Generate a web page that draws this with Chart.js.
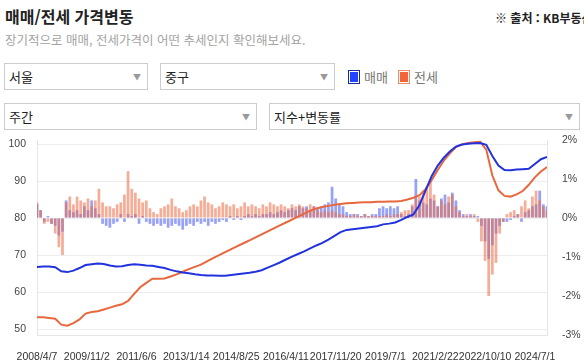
<!DOCTYPE html>
<html lang="ko">
<head>
<meta charset="utf-8">
<title>매매/전세 가격변동</title>
<script src="https://cdn.jsdelivr.net/npm/chart.js@4.4.1/dist/chart.umd.min.js"></script>
<style>
  html, body { margin:0; padding:0; background:#fff; }
  body { width:584px; height:364px; overflow:hidden; position:relative;
         font-family:"Noto Sans CJK KR","Noto Sans",sans-serif; color:#222; }
  .title { position:absolute; left:5px; top:6px; font-size:16px; font-weight:700; line-height:20px; }
  .source { position:absolute; left:495px; top:9px; font-size:12px; font-weight:700; white-space:nowrap; line-height:18px; }
  .desc { position:absolute; left:5px; top:31px; font-size:12.5px; color:#a3a3a3; line-height:17px; white-space:nowrap; }
  .sel { position:absolute; box-sizing:border-box; height:27px; border:1px solid #ccc; background:#fff;
         font-size:13px; line-height:25px; padding-left:4px; }
  .sel::after { content:"▼"; position:absolute; right:6px; top:0; font-size:8px; color:#999; }
  .box { position:absolute; top:70px; width:12px; height:14px; box-sizing:border-box; }
  .lgtext { position:absolute; top:68px; font-size:13px; color:#777; line-height:18px; }
  #wrap { position:absolute; left:0; top:132px; width:584px; height:232px; }
</style>
</head>
<body>
<div class="title">매매/전세 가격변동</div>
<div class="source">※ 출처 : KB부동산</div>
<div class="desc">장기적으로 매매, 전세가격이 어떤 추세인지 확인해보세요.</div>

<div class="sel" style="left:4px;top:63px;width:144px;">서울</div>
<div class="sel" style="left:160px;top:63px;width:175px;">중구</div>
<div class="box" style="left:348px;background:#2244ff;border:1px solid #1a2a9a;box-shadow:inset 0 0 0 1px #fff;"></div>
<div class="lgtext" style="left:364px;">매매</div>
<div class="box" style="left:398px;background:#f0653a;border:1px solid #ee8a68;box-shadow:inset 0 0 0 1px #fff;"></div>
<div class="lgtext" style="left:414px;">전세</div>

<div class="sel" style="left:4px;top:103px;width:253px;">주간</div>
<div class="sel" style="left:269px;top:103px;width:311px;">지수+변동률</div>

<div id="wrap"><canvas id="myChart"></canvas></div>

<script>
// x axis labels (weekly index, one label every 82 weeks)
var weekLabels = ['2008/4/7','2009/11/2','2011/6/6','2013/1/14','2014/8/25','2016/4/11','2017/11/20','2019/7/1','2021/2/22','2022/10/10','2024/7/1'];
var labelWeeks = [0,82,164,246,328,410,492,574,656,738,820];
var lastWeek = 840;

// price index, one value every 10 weeks
var indexStep = 10;
var saleIndex = [66.8,66.9,66.9,66.7,65.6,65.4,65.8,66.5,67.3,67.5,
  67.7,67.6,67.2,66.9,67.0,67.3,67.5,67.4,67.2,67.1,
  66.8,66.5,66.0,65.6,65.3,65.1,64.8,64.6,64.5,64.5,
  64.4,64.4,64.6,64.8,65.0,65.2,65.5,65.9,66.6,67.3,
  68.0,68.8,69.6,70.3,71.0,71.8,72.6,73.3,74.2,75.2,
  76.2,76.8,77.0,77.2,77.4,77.6,77.8,78.3,78.5,78.8,
  79.5,80.3,81.0,83.5,87.5,91.3,94.2,96.3,98.0,99.3,
  99.9,100.1,100.2,100.3,99.8,96.8,94.2,93.0,92.9,93.1,
  93.2,93.3,94.6,95.9,96.5];
var jeonseIndex = [53.2,53.2,53.0,52.8,51.2,50.9,51.6,52.6,54.2,54.6,
  54.8,55.3,55.8,56.3,56.7,57.6,59.5,61.3,62.5,63.6,
  63.6,63.7,64.2,64.8,65.5,66.2,66.8,67.4,68.3,69.2,
  70.0,70.8,71.6,72.4,73.2,74.0,74.8,75.6,76.4,77.2,
  78.0,78.8,79.6,80.4,81.2,82.0,82.6,83.0,83.3,83.6,
  83.8,84.0,84.1,84.2,84.3,84.3,84.4,84.4,84.5,84.5,
  84.6,85.0,85.5,86.2,87.8,90.2,93.0,95.5,97.5,99.2,
  99.9,100.3,100.5,100.6,98.5,91.5,87.5,86.0,85.8,86.4,
  87.3,89.0,91.0,92.6,93.8];

// change rate (%), one value every 6 weeks
var changeStep = 6;
var saleChange = [0.35,0.2,-0.1,0.05,-0.15,-0.2,-0.45,-0.35,0.45,0.2,
  0.15,0.2,0.1,0.3,0.2,0.45,0.25,0.1,-0.15,-0.2,
  -0.25,-0.15,-0.1,0.1,-0.1,0.1,0.05,0.1,-0.15,0.05,
  -0.1,-0.15,-0.2,-0.15,-0.2,-0.15,-0.25,-0.2,-0.15,-0.2,
  -0.3,-0.2,-0.15,-0.2,-0.1,-0.15,-0.1,-0.2,-0.1,-0.15,
  -0.1,-0.05,-0.1,0.05,-0.05,0.05,-0.05,0.05,0.1,0.05,
  0.1,0.05,0.1,0.1,0.15,0.1,0.15,0.2,0.15,0.2,
  0.25,0.2,0.3,0.25,0.3,0.2,0.3,0.25,0.3,0.35,
  0.4,0.8,0.5,0.35,0.3,0.15,0.1,0.1,0.1,0.05,
  0.1,0.05,0.1,0.1,0.25,0.3,0.25,0.3,0.25,0.3,
  0.1,0.05,0.1,0.3,1.0,0.45,0.4,0.35,0.5,0.45,
  0.3,0.5,0.6,0.4,0.65,0.45,0.2,0.1,0.05,0.1,
  0.05,0.05,-0.2,-0.6,-1.05,-0.7,-0.4,-0.2,-0.1,-0.1,
  -0.05,0.05,0.1,-0.1,0.15,0.2,0.3,0.35,0.7,0.35,
  0.3];
var jeonseChange = [0.4,0.2,-0.15,-0.1,-0.15,-0.4,-0.75,-0.95,0.4,0.55,
  0.35,0.55,0.45,0.4,0.5,0.3,0.45,0.75,0.4,0.3,
  0.3,0.25,0.35,0.4,0.6,1.2,0.75,0.65,0.5,0.4,
  0.45,0.25,0.15,0.1,0.25,0.3,0.35,0.5,0.3,0.25,
  0.15,0.2,0.3,0.35,0.3,0.45,0.55,0.4,0.35,0.25,
  0.3,0.4,0.35,0.3,0.35,0.25,0.3,0.4,0.3,0.35,
  0.3,0.25,0.35,0.3,0.4,0.35,0.3,0.35,0.3,0.25,
  0.35,0.3,0.35,0.3,0.25,0.35,0.3,0.2,0.15,0.2,
  0.15,0.2,0.15,0.1,0.1,0.05,0.05,0.1,0.05,0.05,
  0.1,0.05,0.05,0.05,0.05,0.05,0.1,0.05,0.1,0.1,
  0.15,0.2,0.2,0.35,0.5,0.55,0.7,0.8,0.95,0.6,
  0.3,0.45,0.35,0.55,0.6,0.3,0.15,0.05,0.1,0.05,
  0.1,-0.1,-0.6,-1.1,-2.0,-1.45,-1.15,-0.4,-0.1,0.1,
  0.15,0.2,0.1,0.3,0.45,0.25,0.55,0.7,0.45,0.3,
  0.2];

function toPoints(values, step) {
  return values.map(function(v, i){ return {x: i * step, y: v}; });
}

// y axes: fixed width, no extra label padding above/below the plot
function fixAxis(s) {
  s.width = 37;
  s.paddingTop = 0;
  s.paddingBottom = 0;
}

var tickFont = {family: 'Liberation Sans', size: 10.5};

var ctx = document.getElementById('myChart');
var myChart = new Chart(ctx, {
  type: 'bar',
  data: {
    datasets: [
      {type:'line', label:'매매', data: toPoints(saleIndex, indexStep), yAxisID:'y',
       borderColor:'#2233dd', borderWidth:2, pointRadius:0, tension:0, order:0},
      {type:'line', label:'전세', data: toPoints(jeonseIndex, indexStep), yAxisID:'y',
       borderColor:'#e8673c', borderWidth:2, pointRadius:0, tension:0, order:1},
      {type:'bar', label:'전세 변동률', data: toPoints(jeonseChange, changeStep), yAxisID:'y1',
       backgroundColor:'rgba(236,105,65,0.55)', grouped:false, barPercentage:0.75, categoryPercentage:1, order:2},
      {type:'bar', label:'매매 변동률', data: toPoints(saleChange, changeStep), yAxisID:'y1',
       backgroundColor:'rgba(65,85,240,0.55)', grouped:false, barPercentage:0.75, categoryPercentage:1, order:3}
    ]
  },
  options: {
    responsive: true,
    maintainAspectRatio: false,
    animation: false,
    layout: {padding: {top: 8, left: 0, right: 0, bottom: 0}},
    plugins: {legend: {display: false}, tooltip: {enabled: false}},
    scales: {
      x: {
        type: 'linear', min: 0, max: lastWeek, offset: false,
        grid: {display: false},
        border: {display: true, color: '#e6e6e6'},
        afterBuildTicks: function(s){ s.ticks = labelWeeks.map(function(v){ return {value: v}; }); },
        afterFit: function(s){ s.height = 29; s.paddingLeft = 0; s.paddingRight = 0; },
        ticks: {autoSkip: false, maxRotation: 0, padding: 8, color: '#333', font: tickFont,
                callback: function(v, i){ return weekLabels[i]; }}
      },
      y: {
        position: 'left', min: 48.4, max: 101.1,
        grid: {color: '#ededed', drawTicks: false},
        border: {display: true, color: '#e6e6e6'},
        afterFit: fixAxis,
        ticks: {stepSize: 10, includeBounds: false, padding: 11, color: '#444', font: tickFont}
      },
      y1: {
        position: 'right', min: -3, max: 2,
        grid: {drawOnChartArea: false, drawTicks: false},
        border: {display: true, color: '#e6e6e6'},
        afterFit: fixAxis,
        ticks: {stepSize: 1, padding: 15, color: '#444', font: tickFont,
                callback: function(v){ return v + '%'; }}
      }
    }
  }
});
</script>
</body>
</html>
